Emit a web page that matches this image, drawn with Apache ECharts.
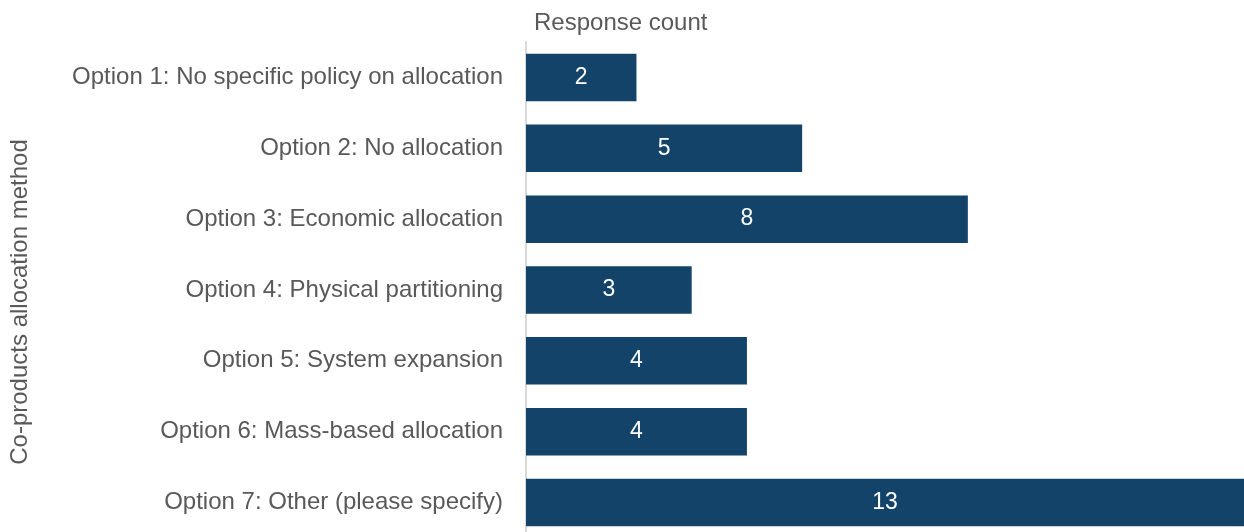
<!DOCTYPE html>
<html>
<head>
<meta charset="utf-8">
<script src="https://cdn.jsdelivr.net/npm/echarts@6/dist/echarts.min.js"></script>
<style>
html,body{margin:0;padding:0;background:#fff;overflow:hidden;}
#chart{width:1244px;height:540px;}
</style>
</head>
<body>
<div id="chart"></div>
<script>
const categories = [
  "Option 1: No specific policy on allocation",
  "Option 2: No allocation",
  "Option 3: Economic allocation",
  "Option 4: Physical partitioning",
  "Option 5: System expansion",
  "Option 6: Mass-based allocation",
  "Option 7: Other (please specify)"
];
const counts = [2, 5, 8, 3, 4, 4, 13];
const xTitle = "Response count";
const yTitle = "Co-products allocation method";

const chart = echarts.init(document.getElementById('chart'), null, {renderer: 'canvas'});
const font = "'Liberation Sans', Arial, sans-serif";
chart.setOption({
  animation: false,
  backgroundColor: '#ffffff',
  title: {
    text: xTitle,
    left: 534,
    top: 11,
    padding: 0,
    textStyle: {fontFamily: font, fontSize: 24, fontWeight: 'normal', color: '#595959'}
  },
  grid: {left: 524, top: 42, width: 722, height: 496, containLabel: false},
  xAxis: {
    type: 'value',
    min: 0,
    max: 13,
    show: false
  },
  yAxis: {
    type: 'category',
    inverse: true,
    data: categories,
    name: yTitle,
    nameLocation: 'middle',
    nameGap: 494,
    nameTextStyle: {fontFamily: font, fontSize: 24, color: '#595959', padding: [0, 24, 0, 0]},
    axisLine: {show: true, lineStyle: {color: '#d9d9d9', width: 2}},
    axisTick: {show: false},
    axisLabel: {fontFamily: font, fontSize: 24, color: '#595959', margin: 23},
    splitLine: {show: false}
  },
  series: [{
    type: 'bar',
    data: counts,
    barCategoryGap: '33%',
    itemStyle: {color: '#134369'},
    label: {
      show: true,
      position: 'inside',
      color: '#ffffff',
      fontFamily: font,
      fontSize: 23
    }
  }]
});
</script>
</body>
</html>
